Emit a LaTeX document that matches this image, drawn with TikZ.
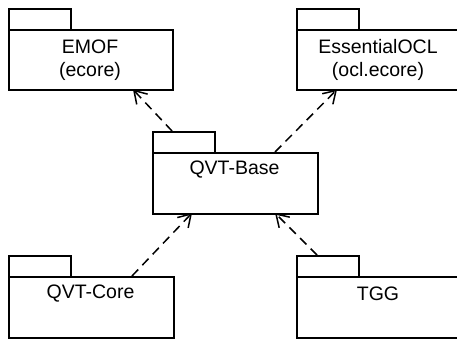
\documentclass[tikz,border=0pt]{standalone}
\usepackage{fontspec}
\setmainfont{Liberation Sans}
\usetikzlibrary{arrows.meta}
\begin{document}
\begin{tikzpicture}[x=1pt,y=-1pt,
  pkgline/.style={draw=black,line width=1.6pt,fill=white,inner sep=0pt,anchor=north west},
  lbl/.style={font=\fontsize{19.5}{23}\selectfont,align=center,inner sep=0pt},
  dep/.style={line width=1.5pt,dash pattern=on 9pt off 6pt,
    -{Straight Barb[length=12pt,width=15pt,line width=1.5pt]}}]
\useasboundingbox (0,0) rectangle (457,339);
\begin{scope}
\clip (0,0) rectangle (457,339);
% EMOF
\node[pkgline,minimum width=62,minimum height=21] (emoftab) at (8,8) {};
\node[pkgline,minimum width=164,minimum height=60] (emof) at (8,29) {};
\node[lbl] (emoft) at (90,60) {EMOF\\(ecore)};
% EssentialOCL
\node[pkgline,minimum width=62,minimum height=21] (ocltab) at (296,8) {};
\node[pkgline,minimum width=170,minimum height=60] (ocl) at (296,29) {};
\node[lbl] (oclt) at (378,60) {EssentialOCL\\(ocl.ecore)};
% QVT-Base
\node[pkgline,minimum width=62,minimum height=21] (qbtab) at (152,131) {};
\node[pkgline,minimum width=165,minimum height=61] (qb) at (152,152) {};
\node[lbl] (qbt) at (234.5,170) {QVT-Base};
% QVT-Core
\node[pkgline,minimum width=62,minimum height=21] (qctab) at (8,255) {};
\node[pkgline,minimum width=165,minimum height=61] (qc) at (8,276) {};
\node[lbl] (qct) at (90.5,294) {QVT-Core};
% TGG
\node[pkgline,minimum width=62,minimum height=21] (tggtab) at (296,255) {};
\node[pkgline,minimum width=170,minimum height=61] (tgg) at (296,276) {};
\node[lbl] (tggt) at (378,294) {TGG};
\end{scope}
% connector end points
\coordinate (s1) at (172,131);
\coordinate (e1) at (133,89.5);
\coordinate (s2) at (275,152);
\coordinate (e2) at (337,89.5);
\coordinate (s3) at (132,276);
\coordinate (e3) at (192,213);
\coordinate (s4) at (317,255);
\coordinate (e4) at (275,213);
\draw[dep] (s1) -- (e1);
\draw[dep] (s2) -- (e2);
\draw[dep] (s3) -- (e3);
\draw[dep] (s4) -- (e4);
\end{tikzpicture}
\end{document}
